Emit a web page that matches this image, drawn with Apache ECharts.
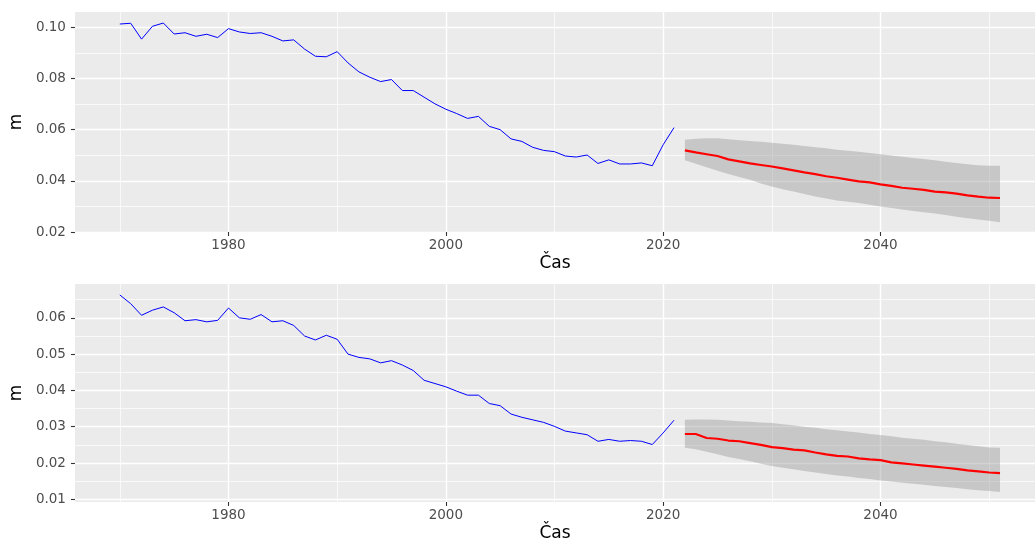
<!DOCTYPE html>
<html>
<head>
<meta charset="utf-8">
<script src="https://cdn.jsdelivr.net/npm/echarts@6/dist/echarts.min.js"></script>
<style>
  html, body { margin: 0; padding: 0; background: #ffffff; }
  #chart { width: 1035px; height: 543px; }
</style>
</head>
<body>
<div id="chart"></div>
<script>
// Observed years
const histYears = [
  1970, 1971, 1972, 1973, 1974, 1975, 1976, 1977, 1978, 1979,
  1980, 1981, 1982, 1983, 1984, 1985, 1986, 1987, 1988, 1989,
  1990, 1991, 1992, 1993, 1994, 1995, 1996, 1997, 1998, 1999,
  2000, 2001, 2002, 2003, 2004, 2005, 2006, 2007, 2008, 2009,
  2010, 2011, 2012, 2013, 2014, 2015, 2016, 2017, 2018, 2019,
  2020, 2021
];
// Forecast years
const fcYears = [
  2022, 2023, 2024, 2025, 2026, 2027, 2028, 2029, 2030, 2031,
  2032, 2033, 2034, 2035, 2036, 2037, 2038, 2039, 2040, 2041,
  2042, 2043, 2044, 2045, 2046, 2047, 2048, 2049, 2050, 2051
];

// Upper panel: observed m
const topHist = [
  0.1013, 0.1016, 0.0954, 0.1004, 0.1017, 0.0974, 0.0979, 0.0965, 0.0973, 0.0960,
  0.0995, 0.0982, 0.0976, 0.0979, 0.0965, 0.0947, 0.0951, 0.0915, 0.0887, 0.0885,
  0.0905, 0.0861, 0.0826, 0.0805, 0.0788, 0.0796, 0.0753, 0.0753, 0.0727, 0.0701,
  0.0680, 0.0663, 0.0644, 0.0652, 0.0613, 0.0600, 0.0564, 0.0554, 0.0531, 0.0519,
  0.0514, 0.0497, 0.0493, 0.0501, 0.0468, 0.0482, 0.0466, 0.0466, 0.0470, 0.0459,
  0.0541, 0.0608
];
// Upper panel: forecast and interval bounds
const topFc = [
  0.0519, 0.0511, 0.0504, 0.0497, 0.0484, 0.0476, 0.0468, 0.0462, 0.0456, 0.0449,
  0.0441, 0.0433, 0.0426, 0.0418, 0.0412, 0.0405, 0.0398, 0.0394, 0.0386, 0.0380,
  0.0373, 0.0369, 0.0365, 0.0358, 0.0355, 0.0350, 0.0343, 0.0338, 0.0334, 0.0333
];
const topLo = [
  0.0480, 0.0467, 0.0453, 0.0439, 0.0427, 0.0415, 0.0404, 0.0390, 0.0378, 0.0367,
  0.0358, 0.0349, 0.0339, 0.0331, 0.0323, 0.0318, 0.0313, 0.0307, 0.0300, 0.0294,
  0.0288, 0.0282, 0.0277, 0.0272, 0.0266, 0.0260, 0.0254, 0.0249, 0.0244, 0.0238
];
const topHi = [
  0.0561, 0.0565, 0.0566, 0.0566, 0.0563, 0.0559, 0.0556, 0.0553, 0.0549, 0.0545,
  0.0541, 0.0536, 0.0531, 0.0527, 0.0522, 0.0518, 0.0514, 0.0509, 0.0504, 0.0499,
  0.0494, 0.0489, 0.0485, 0.0480, 0.0475, 0.0470, 0.0465, 0.0461, 0.0459, 0.0459
];

// Lower panel: observed m
const botHist = [
  0.0663, 0.0639, 0.0607, 0.0621, 0.0630, 0.0614, 0.0592, 0.0595, 0.0589, 0.0593,
  0.0627, 0.0600, 0.0596, 0.0609, 0.0589, 0.0592, 0.0579, 0.0550, 0.0539, 0.0552,
  0.0541, 0.0500, 0.0491, 0.0487, 0.0476, 0.0482, 0.0470, 0.0455, 0.0428, 0.0419,
  0.0410, 0.0398, 0.0387, 0.0387, 0.0364, 0.0358, 0.0335, 0.0326, 0.0319, 0.0312,
  0.0301, 0.0288, 0.0283, 0.0278, 0.0260, 0.0265, 0.0260, 0.0262, 0.0260, 0.0251,
  0.0283, 0.0318
];
// Lower panel: forecast and interval bounds
const botFc = [
  0.0280, 0.0280, 0.0269, 0.0267, 0.0262, 0.0260, 0.0255, 0.0250, 0.0244, 0.0241,
  0.0237, 0.0235, 0.0229, 0.0224, 0.0220, 0.0218, 0.0213, 0.0210, 0.0208, 0.0202,
  0.0199, 0.0196, 0.0193, 0.0190, 0.0187, 0.0184, 0.0180, 0.0177, 0.0174, 0.0172
];
const botLo = [
  0.0242, 0.0238, 0.0231, 0.0224, 0.0217, 0.0211, 0.0205, 0.0198, 0.0192, 0.0187,
  0.0183, 0.0178, 0.0174, 0.0170, 0.0166, 0.0163, 0.0159, 0.0156, 0.0152, 0.0149,
  0.0146, 0.0143, 0.0140, 0.0137, 0.0134, 0.0131, 0.0128, 0.0125, 0.0123, 0.0120
];
const botHi = [
  0.0319, 0.0320, 0.0320, 0.0319, 0.0317, 0.0315, 0.0314, 0.0312, 0.0310, 0.0307,
  0.0304, 0.0300, 0.0297, 0.0293, 0.0290, 0.0287, 0.0284, 0.0280, 0.0277, 0.0274,
  0.0270, 0.0267, 0.0264, 0.0260, 0.0257, 0.0253, 0.0250, 0.0246, 0.0243, 0.0242
];

// Tick positions
const xMajorTicks = [1980, 2000, 2020, 2040];
const xMinorTicks = [1970, 1990, 2010, 2030, 2050];
const topYMajor = [0.02, 0.04, 0.06, 0.08, 0.10];
const topYMinor = [0.03, 0.05, 0.07, 0.09];
const botYMajor = [0.01, 0.02, 0.03, 0.04, 0.05, 0.06];
const botYMinor = [0.015, 0.025, 0.035, 0.045, 0.055, 0.065];

const xTitle = 'Čas';
const yTitle = 'm';

const FONT = 'DejaVu Sans';
const PANEL_BG = '#EBEBEB';
const X_MIN = 1965.87, X_MAX = 2054.22;

const pairs = (xs, ys) => xs.map((x, i) => [x, ys[i]]);

function xAxisMajor(gridIndex) {
  return {
    type: 'value', gridIndex, min: X_MIN, max: X_MAX,
    name: xTitle, nameLocation: 'middle', nameGap: 23,
    nameTextStyle: { color: '#000', fontFamily: FONT, fontSize: 17 },
    axisLine: { show: false },
    axisTick: { show: true, length: 4, customValues: xMajorTicks, lineStyle: { color: '#333', width: 1.1 } },
    axisLabel: { customValues: xMajorTicks, margin: 6, color: '#4D4D4D', fontFamily: FONT, fontSize: 13.5,
                 formatter: v => String(Math.round(v)) },
    splitLine: { show: true, lineStyle: { color: '#FFFFFF', width: 1.4 } }
  };
}
function xAxisMinor(gridIndex) {
  return {
    type: 'value', gridIndex, min: X_MIN, max: X_MAX,
    axisLine: { show: false },
    axisTick: { show: false, customValues: xMinorTicks },
    axisLabel: { show: false, customValues: xMinorTicks },
    splitLine: { show: true, lineStyle: { color: '#FFFFFF', width: 0.7 } }
  };
}
function yAxisMajor(gridIndex, min, max, ticks) {
  return {
    type: 'value', gridIndex, min, max,
    name: yTitle, nameLocation: 'middle', nameGap: 42, nameRotate: 90,
    nameTextStyle: { color: '#000', fontFamily: FONT, fontSize: 17 },
    axisLine: { show: false },
    axisTick: { show: true, length: 4, customValues: ticks, lineStyle: { color: '#333', width: 1.1 } },
    axisLabel: { customValues: ticks, margin: 9, color: '#4D4D4D', fontFamily: FONT, fontSize: 13.5,
                 formatter: v => v.toFixed(2) },
    splitLine: { show: true, lineStyle: { color: '#FFFFFF', width: 1.4 } }
  };
}
function yAxisMinor(gridIndex, min, max, ticks) {
  return {
    type: 'value', gridIndex, min, max,
    axisLine: { show: false },
    axisTick: { show: false, customValues: ticks },
    axisLabel: { show: false, customValues: ticks },
    splitLine: { show: true, lineStyle: { color: '#FFFFFF', width: 0.7 } }
  };
}

// Prediction interval as one polygon: upper bound forward, lower bound back
function bandRenderItem(params, api) {
  if (params.dataIndexInside !== 0) return null;
  const n = params.dataInsideLength;
  const pts = [];
  for (let j = 0; j < n; j++) pts.push(api.coord([api.value(0, j), api.value(2, j)]));
  for (let j = n - 1; j >= 0; j--) pts.push(api.coord([api.value(0, j), api.value(1, j)]));
  return {
    type: 'polygon',
    shape: { points: pts },
    style: { fill: 'rgba(150,150,150,0.42)' }
  };
}

function panelSeries(xi, yi, hist, fc, lo, hi) {
  return [
    {
      type: 'custom', xAxisIndex: xi, yAxisIndex: yi,
      data: fcYears.map((x, i) => [x, lo[i], hi[i]]),
      encode: { x: 0, y: [1, 2] },
      renderItem: bandRenderItem, silent: true, z: 2
    },
    {
      type: 'line', xAxisIndex: xi, yAxisIndex: yi, data: pairs(histYears, hist),
      symbol: 'none', lineStyle: { color: '#0000FF', width: 1 }, z: 4
    },
    {
      type: 'line', xAxisIndex: xi, yAxisIndex: yi, data: pairs(fcYears, fc),
      symbol: 'none', lineStyle: { color: '#FF0000', width: 2.2 }, z: 5
    }
  ];
}

const chart = echarts.init(document.getElementById('chart'), null, { renderer: 'canvas' });
chart.setOption({
  animation: false,
  backgroundColor: '#FFFFFF',
  grid: [
    { left: 72, right: 0, top: 12, height: 220, show: true, backgroundColor: PANEL_BG, borderWidth: 0 },
    { left: 72, right: 0, top: 284, height: 221, show: true, backgroundColor: PANEL_BG, borderWidth: 0 }
  ],
  xAxis: [xAxisMajor(0), xAxisMajor(1), xAxisMinor(0), xAxisMinor(1)],
  yAxis: [
    yAxisMajor(0, 0.02, 0.106, topYMajor),
    yAxisMajor(1, 0.00927, 0.06932, botYMajor),
    yAxisMinor(0, 0.02, 0.106, topYMinor),
    yAxisMinor(1, 0.00927, 0.06932, botYMinor)
  ],
  series: [
    ...panelSeries(0, 0, topHist, topFc, topLo, topHi),
    ...panelSeries(1, 1, botHist, botFc, botLo, botHi)
  ]
});
</script>
</body>
</html>
